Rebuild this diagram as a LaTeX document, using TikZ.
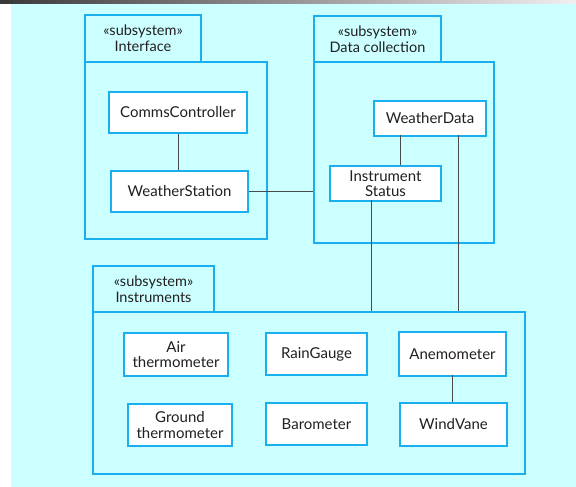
\documentclass[tikz,border=0pt]{standalone}
\usepackage{fontspec}
\setmainfont{Lato}
\usetikzlibrary{calc}
\definecolor{umlblue}{HTML}{1AAFEF}
\definecolor{paper}{HTML}{CCFFFF}
\definecolor{wire}{HTML}{4A4A4A}
\definecolor{ink}{HTML}{231F20}
\begin{document}
\begin{tikzpicture}[x=1pt,y=-1pt,
  frame/.style={draw=umlblue,line width=2pt,inner sep=0pt,anchor=north west,text=ink},
  pkgtab/.style={frame,fill=paper,align=center,font=\fontsize{14.5}{16}\selectfont},
  pkgbody/.style={frame},
  cls/.style={draw=umlblue,line width=2pt,fill=white,inner sep=0pt,anchor=north west,
    align=center,text=ink,font=\fontsize{15}{16}\selectfont},
  twoline/.style={font=\fontsize{15}{15.5}\selectfont},
  wire/.style={draw=wire,line width=1pt}]
% canvas
\useasboundingbox (0,0) rectangle (576,487);
\fill[white] (0,0) rectangle (576,487);
\fill[paper] (11,4) rectangle (576,487);
\shade[left color=black!78,right color=black!6] (0,0) rectangle (576,4);

% Interface subsystem
\node[pkgtab,minimum width=116pt,minimum height=47pt] (iftab) at (84,14) {«subsystem»\\Interface};
\node[pkgbody,minimum width=182pt,minimum height=177pt] (ifbody) at (84,61) {};
\node[cls,minimum width=138pt,minimum height=41pt] (cc) at (108,91) {CommsController};
\node[cls,minimum width=137pt,minimum height=41pt] (ws) at (110,170) {WeatherStation};

% Data collection subsystem
\node[pkgtab,minimum width=127pt,minimum height=46pt] (dctab) at (313,15) {«subsystem»\\Data collection};
\node[pkgbody,minimum width=180pt,minimum height=181pt] (dcbody) at (313,61) {};
\node[cls,minimum width=112pt,minimum height=35pt] (wd) at (373,100) {WeatherData};
\node[cls,twoline,minimum width=111pt,minimum height=35pt] (is) at (329,165) {Instrument\\Status};

% Instruments subsystem
\node[pkgtab,minimum width=121pt,minimum height=46pt] (intab) at (92,265) {«subsystem»\\Instruments};
\node[pkgbody,minimum width=432pt,minimum height=162pt] (inbody) at (92,311) {};
\node[cls,twoline,minimum width=104pt,minimum height=43pt] (air) at (123,332) {Air\\thermometer};
\node[cls,twoline,minimum width=104pt,minimum height=42pt] (gnd) at (127,403) {Ground\\thermometer};
\node[cls,minimum width=101pt,minimum height=42pt] (rg) at (265,332) {RainGauge};
\node[cls,minimum width=101pt,minimum height=42pt] (bar) at (265,402) {Barometer};
\node[cls,minimum width=107pt,minimum height=44pt] (an) at (398,331) {Anemometer};
\node[cls,minimum width=107pt,minimum height=43pt] (wv) at (399,402) {WindVane};

% attachment points of the associations
\coordinate (wdleft) at (400,135);
\coordinate (wdright) at (458,135);
\coordinate (isfoot) at (371,200);
\coordinate (anfoot) at (452,375);

% associations
\draw[wire] (cc.south) -- (cc.south |- ws.north);
\draw[wire] (ws.east) -- (ws.east -| dcbody.west);
\draw[wire] (wdleft) -- (wdleft |- is.north);
\draw[wire] (isfoot) -- (isfoot |- inbody.north);
\draw[wire] (wdright) -- (wdright |- inbody.north);
\draw[wire] (anfoot) -- (anfoot |- wv.north);
\end{tikzpicture}
\end{document}
